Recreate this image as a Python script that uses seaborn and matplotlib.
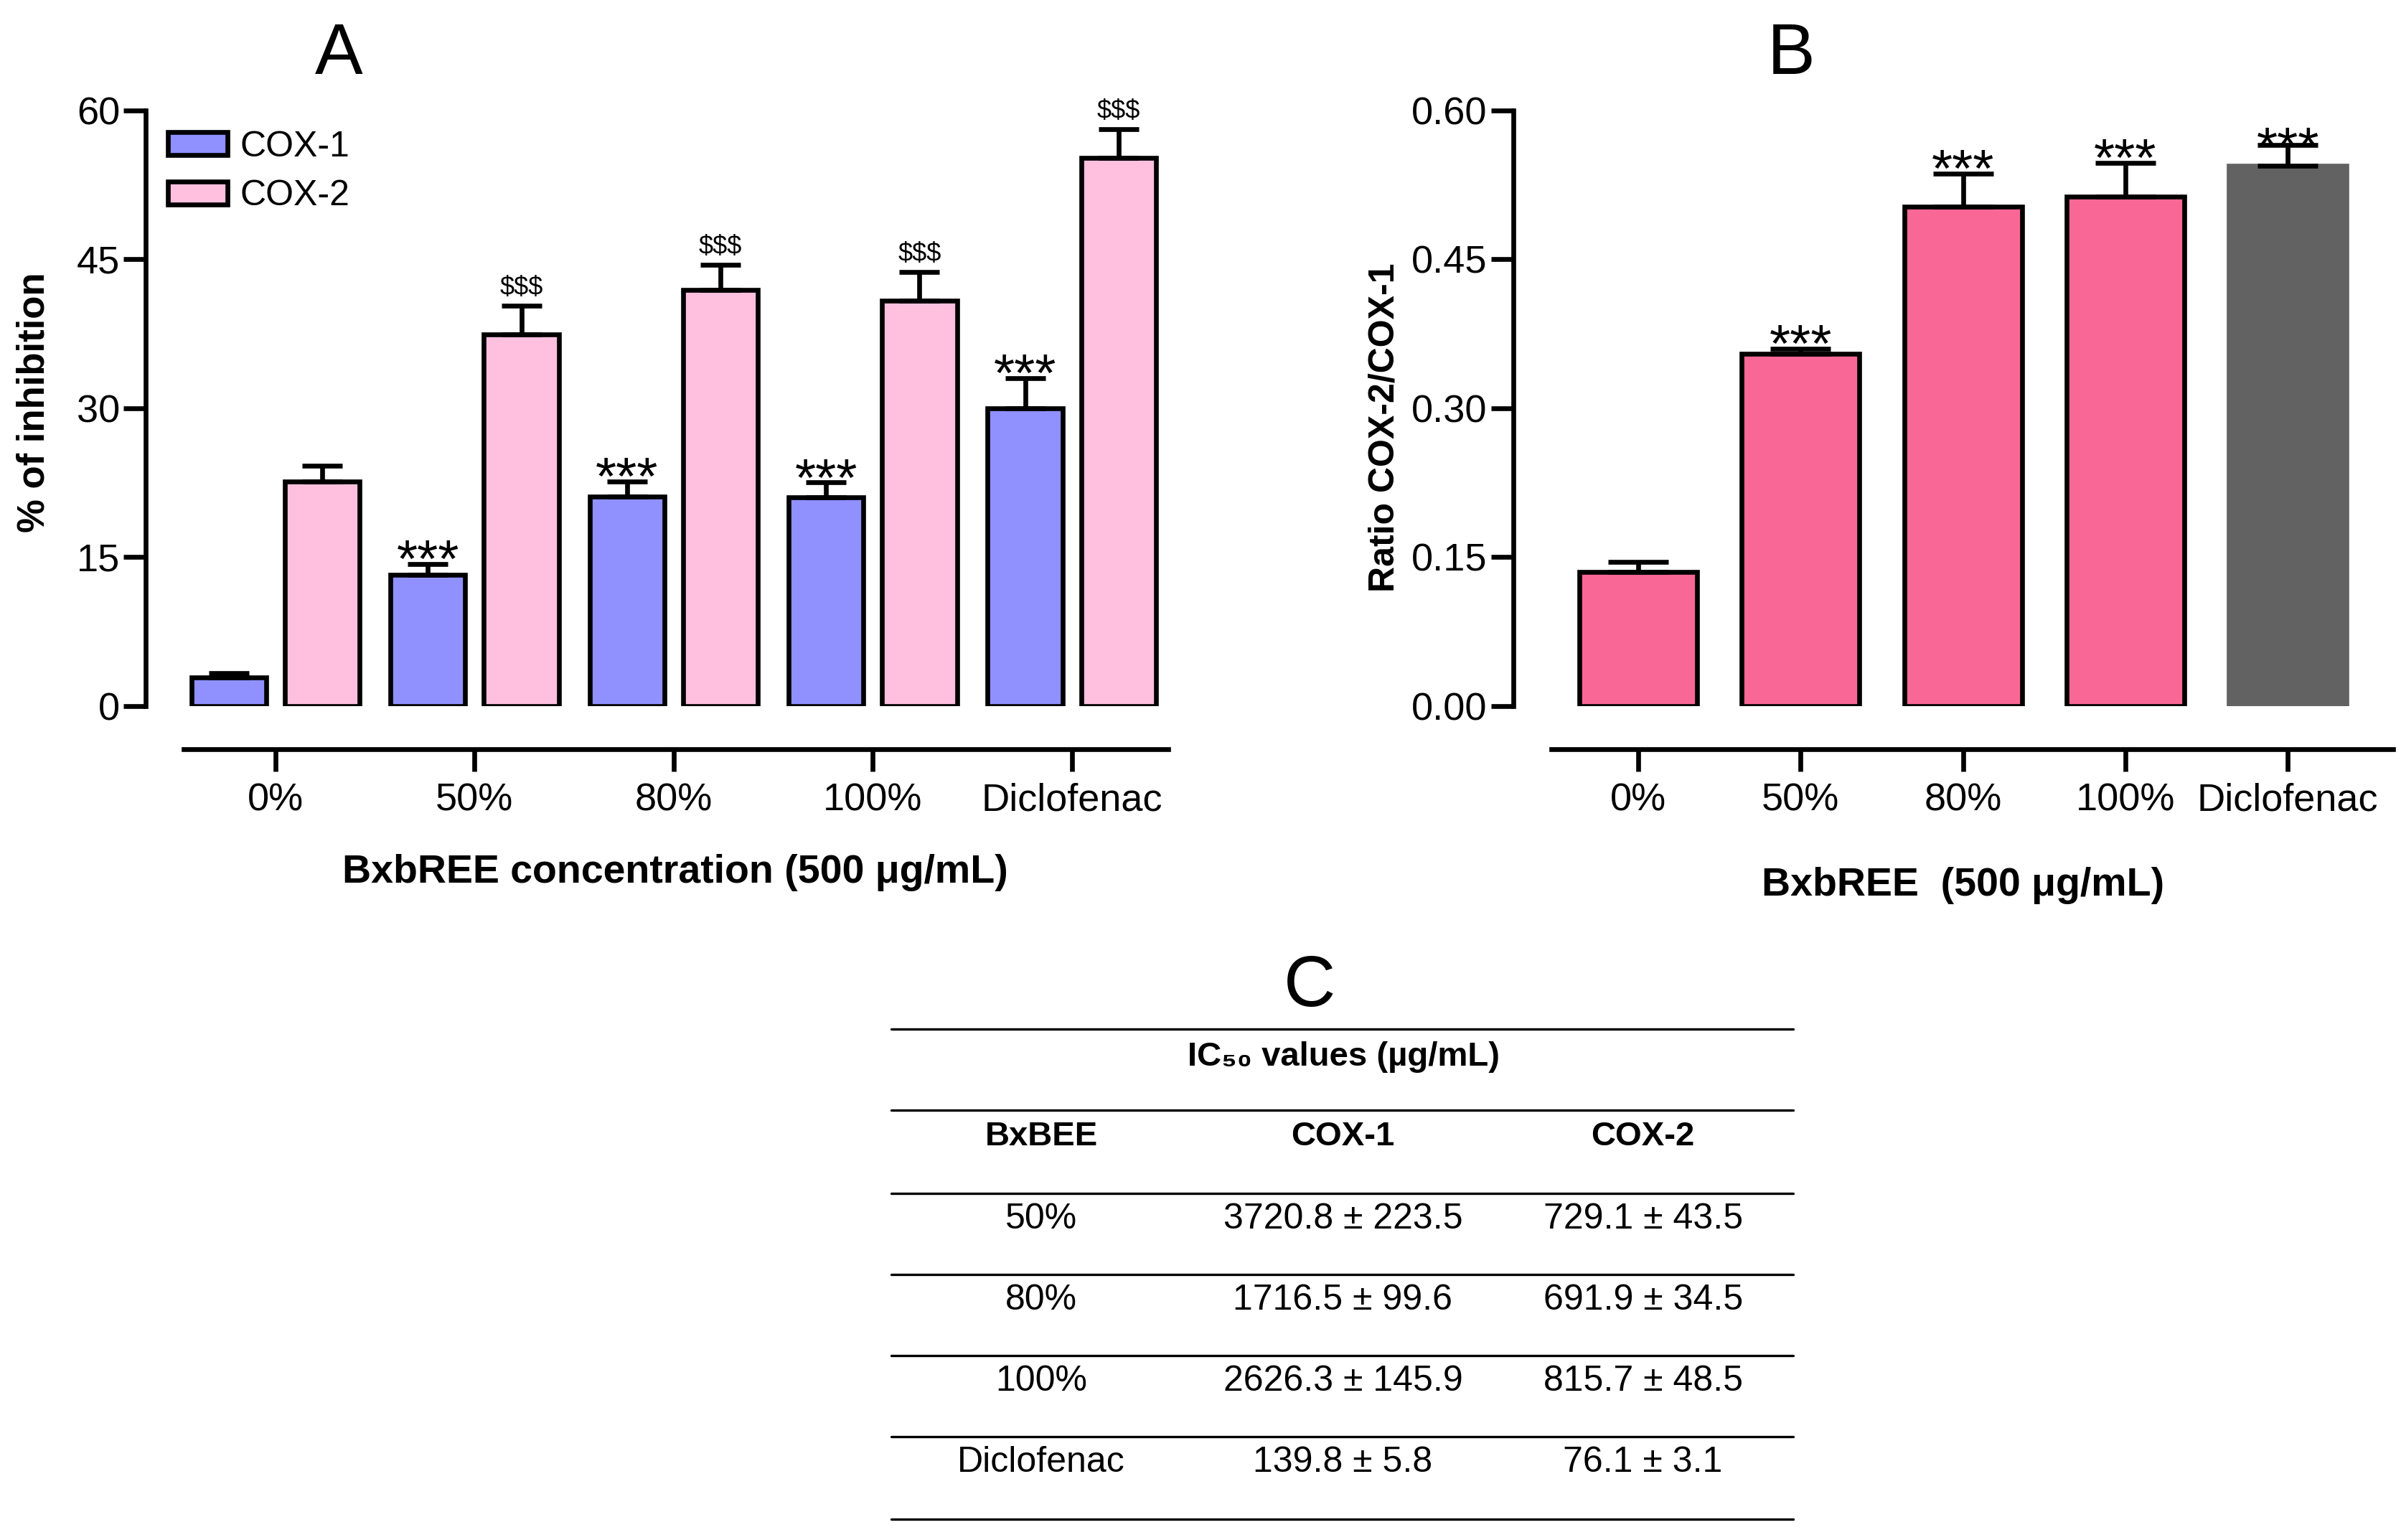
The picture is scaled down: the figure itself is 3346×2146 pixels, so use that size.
import numpy as np
import pandas as pd
import matplotlib
matplotlib.use("Agg")
import matplotlib.pyplot as plt
from matplotlib.patches import Patch
from matplotlib.lines import Line2D
import seaborn as sns

# ---------------- data ----------------
categories = ["0%", "50%", "80%", "100%", "Diclofenac"]
enzymes = ["COX-1", "COX-2"]
cox1_mean = [2.9, 13.2, 21.1, 21.0, 30.0]
cox1_err = [0.4, 1.1, 1.5, 1.5, 3.0]
cox2_mean = [22.6, 37.4, 41.9, 40.8, 55.2]
cox2_err = [1.6, 2.9, 2.5, 2.9, 2.9]
cox1_sig = ["", "***", "***", "***", "***"]
cox2_sig = ["", "$$$", "$$$", "$$$", "$$$"]

ratio_mean = [0.135, 0.355, 0.503, 0.513, 0.544]
ratio_err = [0.010, 0.005, 0.033, 0.034, 0.021]
ratio_sig = ["", "***", "***", "***", "***"]

yticks_a = [0, 15, 30, 45, 60]
yticks_b = [0.00, 0.15, 0.30, 0.45, 0.60]

table_title = "IC\u2085\u2080 values (\u00b5g/mL)"
table_header = ["BxBEE", "COX-1", "COX-2"]
table_rows = ["50%", "80%", "100%", "Diclofenac"]
table_cox1 = ["3720.8 \u00b1 223.5", "1716.5 \u00b1 99.6", "2626.3 \u00b1 145.9", "139.8 \u00b1 5.8"]
table_cox2 = ["729.1 \u00b1 43.5", "691.9 \u00b1 34.5", "815.7 \u00b1 48.5", "76.1 \u00b1 3.1"]

# ---------------- style ----------------
sns.set_style("ticks")
plt.rcParams["font.family"] = ["Liberation Sans", "DejaVu Sans"]
plt.rcParams["mathtext.default"] = "regular"
for k in ["text.color", "axes.labelcolor", "xtick.color", "ytick.color", "axes.edgecolor"]:
    plt.rcParams[k] = "black"

C1 = "#9090FF"
C2 = "#FFC0E0"
CP = "#F96796"
CG = "#626262"
LW = 2.4

fig = plt.figure(figsize=(16.73, 10.73), dpi=200)

def style_axes(ax, ylim, yticks, ylabels):
    ax.set_ylim(*ylim)
    ax.set_yticks(yticks)
    ax.set_yticklabels(ylabels)
    for s in ["top", "right"]:
        ax.spines[s].set_visible(False)
    ax.spines["left"].set_position(("outward", 19))
    ax.spines["bottom"].set_position(("outward", 21.6))
    for s in ["left", "bottom"]:
        ax.spines[s].set_linewidth(LW)
        ax.spines[s].set_color("black")
    ax.tick_params(axis="both", width=LW, length=11, labelsize=19.5, color="black",
                   labelcolor="black")
    ax.tick_params(axis="y", pad=2)
    ax.tick_params(axis="x", pad=6)
    ax.set_facecolor("white")

# ---------------- Panel A ----------------
axA = fig.add_axes([0.0765, 0.5416, 0.4101, 0.3868])
dfA = pd.DataFrame({
    "conc": categories * 2,
    "enzyme": [enzymes[0]] * 5 + [enzymes[1]] * 5,
    "value": cox1_mean + cox2_mean,
})
sns.barplot(data=dfA, x="conc", y="value", hue="enzyme", order=categories,
            hue_order=enzymes, palette=[C1, C2], width=0.94, gap=0.2, saturation=1,
            edgecolor="black", linewidth=LW, errorbar=None, legend=False, ax=axA)
axA.set_xlim(-0.4615, 4.4846)
style_axes(axA, (0, 60), yticks_a, [str(v) for v in yticks_a])

for cont, means, errs, sigs, fs, off in [
        (axA.containers[0], cox1_mean, cox1_err, cox1_sig, 27, -6.5),
        (axA.containers[1], cox2_mean, cox2_err, cox2_sig, 13, 5.5)]:
    xs = [p.get_x() + p.get_width() / 2 for p in cont]
    axA.errorbar(xs, means, yerr=[np.zeros(len(errs)), errs], fmt="none",
                 ecolor="black", elinewidth=LW, capsize=10, capthick=LW, zorder=3)
    for x, m, e, s in zip(xs, means, errs, sigs):
        if s:
            axA.annotate(s, (x, m + e), xytext=(0, off), textcoords="offset points",
                         ha="center", va="baseline", fontsize=fs)

axA.set_xlabel("BxbREE concentration (500 \u03bcg/mL)", fontsize=20, fontweight="bold")
axA.xaxis.set_label_coords(0.499, -0.280)
axA.xaxis.label.set_verticalalignment("center")
axA.set_ylabel("% of inhibition", fontsize=19, fontweight="bold")
axA.yaxis.set_label_coords(-0.152, 0.51)
axA.yaxis.label.set_verticalalignment("center")

handles = [Patch(facecolor=C1, edgecolor="black", linewidth=LW, label=enzymes[0]),
           Patch(facecolor=C2, edgecolor="black", linewidth=LW, label=enzymes[1])]
axA.legend(handles=handles, loc="upper left", bbox_to_anchor=(-0.016, 0.966),
           frameon=False, fontsize=18, handlelength=1.65, handleheight=0.62,
           handletextpad=0.35, labelspacing=0.45, borderpad=0, borderaxespad=0)

fig.text(0.141, 0.964, "A", fontsize=36, ha="center", va="center")

# ---------------- Panel B ----------------
axB = fig.add_axes([0.646, 0.5416, 0.3508, 0.3868])
dfB = pd.DataFrame({"conc": categories, "ratio": ratio_mean})
sns.barplot(data=dfB, x="conc", y="ratio", hue="conc", order=categories,
            hue_order=categories, palette=[CP] * 4 + [CG], width=0.725, saturation=1,
            edgecolor="black", linewidth=LW, errorbar=None, legend=False, ax=axB)
axB.set_xlim(-0.538, 4.651)
style_axes(axB, (0, 0.6), yticks_b, [f"{v:.2f}" for v in yticks_b])

bars = sorted(axB.patches, key=lambda p: p.get_x())
bars[-1].set_edgecolor(CG)
xsB = [p.get_x() + p.get_width() / 2 for p in bars]
axB.errorbar(xsB, ratio_mean, yerr=[np.zeros(len(ratio_err)), ratio_err], fmt="none",
             ecolor="black", elinewidth=LW, capsize=15, capthick=LW, zorder=3)
for i, (x, m, e, s) in enumerate(zip(xsB, ratio_mean, ratio_err, ratio_sig)):
    if s:
        off = -9.5 if categories[i] == "Diclofenac" else -6.5
        axB.annotate(s, (x, m + e), xytext=(0, off), textcoords="offset points",
                     ha="center", va="baseline", fontsize=27, zorder=4)

axB.set_xlabel("BxbREE  (500 \u03bcg/mL)", fontsize=20, fontweight="bold")
axB.xaxis.set_label_coords(0.489, -0.301)
axB.xaxis.label.set_verticalalignment("center")
axB.set_ylabel("Ratio COX-2/COX-1", fontsize=18, fontweight="bold")
axB.yaxis.set_label_coords(-0.198, 0.468)
axB.yaxis.label.set_verticalalignment("center")

fig.text(0.746, 0.964, "B", fontsize=36, ha="center", va="center")

# ---------------- Panel C (table) ----------------
fig.text(0.5453, 0.3586, "C", fontsize=36, ha="center", va="center")
line_y = [0.3317, 0.2790, 0.2253, 0.1726, 0.1199, 0.0672, 0.0135]
for y in line_y:
    fig.add_artist(Line2D([0.3712, 0.7468], [y, y], color="black", lw=1.2,
                          transform=fig.transFigure))
col_x = [0.4337, 0.5593, 0.6843]
fig.text(0.5596, 0.3138, table_title, fontsize=17, fontweight="bold",
         ha="center", va="center")
for cx, h in zip(col_x, table_header):
    fig.text(cx, 0.2621, h, fontsize=17, fontweight="bold", ha="center", va="center")
row_y = [0.2084, 0.1557, 0.1030, 0.0503]
for ry, r, a, b in zip(row_y, table_rows, table_cox1, table_cox2):
    for cx, t in zip(col_x, [r, a, b]):
        fig.text(cx, ry, t, fontsize=18, ha="center", va="center")

fig.savefig("out.png", dpi=200, facecolor="white")
